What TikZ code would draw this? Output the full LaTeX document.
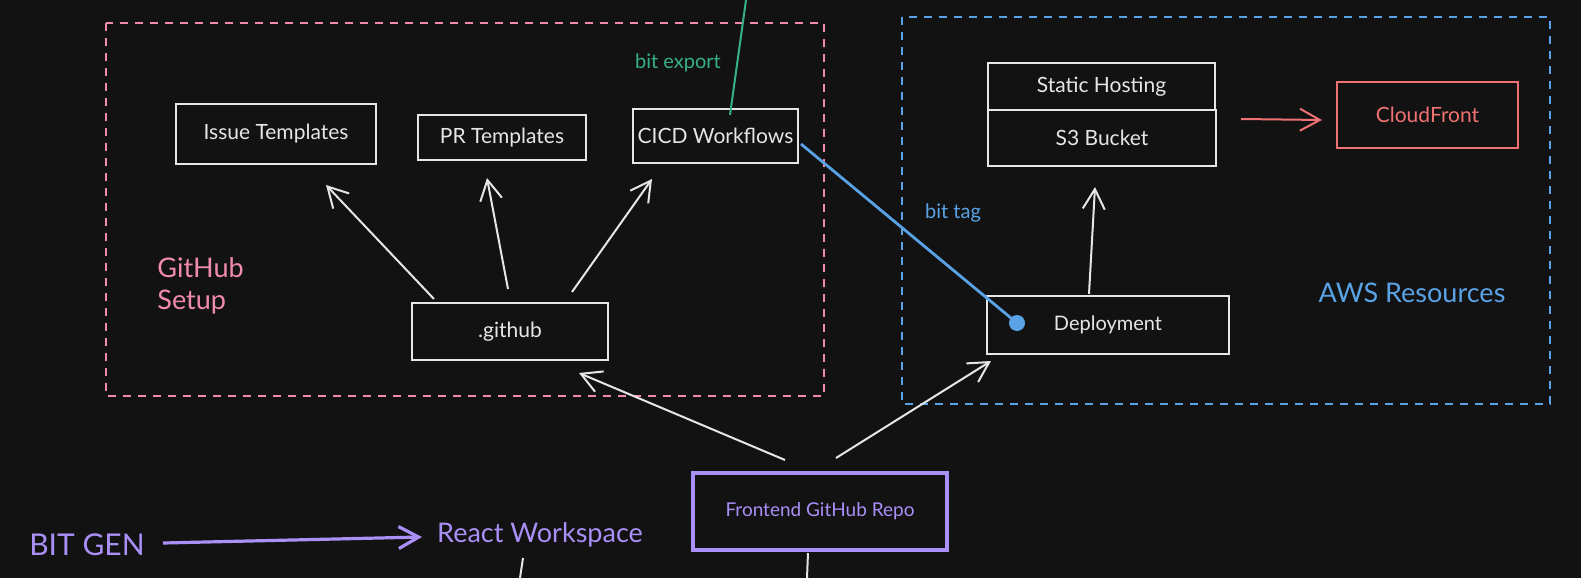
\documentclass[tikz,border=0pt]{standalone}
\usepackage{fontspec}
\setmainfont{Lato}
\usetikzlibrary{arrows.meta}
\definecolor{bg}{HTML}{121212}
\definecolor{ink}{HTML}{E6E6E6}
\definecolor{gitpink}{HTML}{F08CAA}
\definecolor{awsblue}{HTML}{5AA2E6}
\definecolor{tealgreen}{HTML}{36B08A}
\definecolor{cfred}{HTML}{F07272}
\definecolor{repopurple}{HTML}{AA8FF7}
\begin{document}
\begin{tikzpicture}[x=0.5pt,y=-0.5pt,
  box/.style={draw=ink,line width=1pt,inner sep=0pt,text=ink,font=\fontsize{10.5}{12}\selectfont},
  link/.style={ink,line width=1pt,-{Straight Barb[length=10pt,width=11pt]}},
  frame/.style={line width=1pt,dash pattern=on 4pt off 3.5pt},
  note/.style={font=\fontsize{10}{12}\selectfont}]
\fill[bg] (0,0) rectangle (1581,578);
\useasboundingbox (0,0) rectangle (1581,578);
% groups
\draw[frame,gitpink] (106,23) rectangle (824,396);
\draw[frame,awsblue] (902,17) rectangle (1550,404);
\node[gitpink,align=left,anchor=west,inner sep=0pt,font=\fontsize{13.5}{16}\selectfont] (gitlabel) at (157,286) {GitHub\\Setup};
\node[awsblue,font=\fontsize{13.5}{16}\selectfont] (awslabel) at (1412,293) {AWS Resources};
% github side
\node[box,minimum width=200*0.5pt,minimum height=60*0.5pt] (issue) at (276,134) {Issue Templates};
\node[box,minimum width=168*0.5pt,minimum height=45*0.5pt] (pr) at (502,137.5) {PR Templates};
\node[box,minimum width=165*0.5pt,minimum height=54*0.5pt] (cicd) at (715.5,136) {CICD Workflows};
\node[box,minimum width=196*0.5pt,minimum height=57*0.5pt] (github) at (510,331.5) {.github};
% aws side
\node[box,minimum width=227*0.5pt,minimum height=47*0.5pt] (static) at (1101.5,86.5) {Static Hosting};
\node[box,minimum width=228*0.5pt,minimum height=56*0.5pt] (s3) at (1102,138) {S3 Bucket};
\node[box,draw=cfred,text=cfred,minimum width=181*0.5pt,minimum height=66*0.5pt] (cloudfront) at (1427.5,115) {CloudFront};
\node[box,minimum width=242*0.5pt,minimum height=58*0.5pt,font=\fontsize{10}{12}\selectfont] (deploy) at (1108,325) {Deployment};
% repo
\node[box,draw=repopurple,text=repopurple,line width=2pt,minimum width=254*0.5pt,minimum height=77*0.5pt,font=\fontsize{9.5}{11}\selectfont] (repo) at (820,511.5) {Frontend GitHub Repo};
\node[repopurple,font=\fontsize{15}{17}\selectfont] (bitgen) at (87,545) {BIT GEN};
\node[repopurple,font=\fontsize{13.5}{16}\selectfont] (react) at (540,535) {React Workspace};
% labels
\node[note,tealgreen] (bitexport) at (678,63) {bit export};
\node[note,awsblue] (bittag) at (953,213) {bit tag};
% connectors
\draw[link] ([shift={(23,-3)}]github.north west) -- ([shift={(151,20)}]issue.south west);
\draw[link] ([shift={(97,-13)}]github.north west) -- ([shift={(70,17)}]pr.south west);
\draw[link] ([shift={(161,-10)}]github.north west) -- ([shift={(20,15)}]cicd.south west);
\draw[link] ([shift={(94,-11)}]repo.north west) -- ([shift={(168,12)}]github.south west);
\draw[link] ([shift={(145,-13)}]repo.north west) -- ([shift={(5,6)}]deploy.south west);
\draw[link] ([shift={(103,-1)}]deploy.north west) -- ([shift={(108,20)}]s3.south west);
\draw[link,cfred] ([shift={(24,10)}]s3.north east) -- ([shift={(-14,5)}]cloudfront.west);
\coordinate (tagdot) at ([shift={(31,-2)}]deploy.west);
\draw[awsblue,line width=1.4pt] ([shift={(2,8)}]cicd.east) -- (tagdot);
\fill[awsblue] (tagdot) circle (4pt);
\coordinate (exportend) at (746,0);
\draw[tealgreen,line width=1pt] ([shift={(98,7)}]cicd.north west) -- (exportend);
\draw[link,repopurple,line width=1.6pt] ([shift={(76,-2)}]bitgen.center) -- ([shift={(-118,2)}]react.center);
\coordinate (reactend) at (520,578);
\coordinate (repoend) at (807,578);
\draw[ink,line width=1pt] ([shift={(-17,23)}]react.center) -- (reactend);
\draw[ink,line width=1pt] ([shift={(-12,1)}]repo.south) -- (repoend);
\end{tikzpicture}
\end{document}
